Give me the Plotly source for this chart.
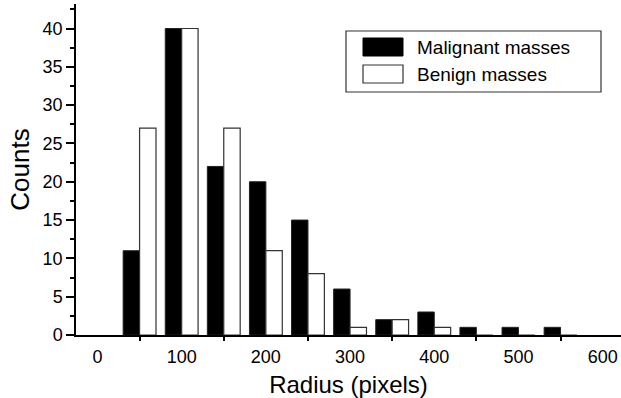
import plotly.graph_objects as go

radius_bins = [50, 100, 150, 200, 250, 300, 350, 400, 450, 500, 550]
malignant_counts = [11, 40, 22, 20, 15, 6, 2, 3, 1, 1, 1]
benign_counts = [27, 40, 27, 11, 8, 1, 2, 1, 0, 0, 0]
x_tick_values = [0, 100, 200, 300, 400, 500, 600]
y_tick_values = [0, 5, 10, 15, 20, 25, 30, 35, 40]
series_names = ["Malignant masses", "Benign masses"]

FONT = "Arial, 'Liberation Sans', Helvetica, sans-serif"

fig = go.Figure()
fig.add_trace(go.Bar(
    x=radius_bins, y=malignant_counts, name=series_names[0],
    marker=dict(color="#000000", line=dict(color="#222222", width=1)),
    showlegend=False,
))
fig.add_trace(go.Bar(
    x=radius_bins, y=benign_counts, name=series_names[1],
    marker=dict(color="#ffffff", line=dict(color="#333333", width=1.2)),
    showlegend=False,
))

# legend drawn as box + swatches + text
L, R, T, B = 76, 621, 4, 335
def px(x):
    return (x - L) / (R - L)
def py(y):
    return (B - y) / (B - T)

fig.add_shape(type="rect", xref="paper", yref="paper",
              x0=px(346), x1=px(601), y0=py(92), y1=py(31),
              line=dict(color="#333333", width=1.2), fillcolor="white")
fig.add_shape(type="rect", xref="paper", yref="paper",
              x0=px(363), x1=px(403), y0=py(56), y1=py(38),
              line=dict(color="#000000", width=1), fillcolor="black")
fig.add_shape(type="rect", xref="paper", yref="paper",
              x0=px(363), x1=px(403), y0=py(83), y1=py(65),
              line=dict(color="#333333", width=1.2), fillcolor="white")
fig.add_annotation(xref="paper", yref="paper", x=px(415), y=py(47),
                   text=series_names[0], showarrow=False, xanchor="left", yanchor="middle",
                   font=dict(family=FONT, size=19, color="black"))
fig.add_annotation(xref="paper", yref="paper", x=px(415), y=py(74),
                   text=series_names[1], showarrow=False, xanchor="left", yanchor="middle",
                   font=dict(family=FONT, size=19, color="black"))

fig.update_layout(
    width=621, height=398,
    margin=dict(l=L, r=621 - R, t=T, b=398 - B),
    paper_bgcolor="white", plot_bgcolor="white",
    barmode="group", bargap=0.22, bargroupgap=0,
    font=dict(family=FONT, color="black"),
    xaxis=dict(
        range=[-25.5, 621.8],
        tickmode="array", tickvals=x_tick_values,
        ticks="", showgrid=False, zeroline=False,
        showline=True, linecolor="black", linewidth=1.5,
        tickfont=dict(size=18, family=FONT),
        ticklabelstandoff=5,
        minor=dict(tickvals=[50, 150, 250, 350, 450, 550], ticks="outside",
                   ticklen=4, tickwidth=1.5, tickcolor="black", showgrid=False),
        title=dict(text="Radius (pixels)", font=dict(size=24, family=FONT), standoff=10),
    ),
    yaxis=dict(
        range=[0, 43.2],
        tickmode="array", tickvals=y_tick_values,
        ticks="outside", ticklen=8, tickwidth=1.5, tickcolor="black",
        showgrid=False, zeroline=False,
        showline=True, linecolor="black", linewidth=1.5,
        tickfont=dict(size=18, family=FONT),
        minor=dict(dtick=2.5, tick0=0, ticks="outside", ticklen=4, tickwidth=1.5,
                   tickcolor="black", showgrid=False),
        title=dict(text="Counts", font=dict(size=26, family=FONT), standoff=6),
    ),
)

fig.write_html("out.html")
